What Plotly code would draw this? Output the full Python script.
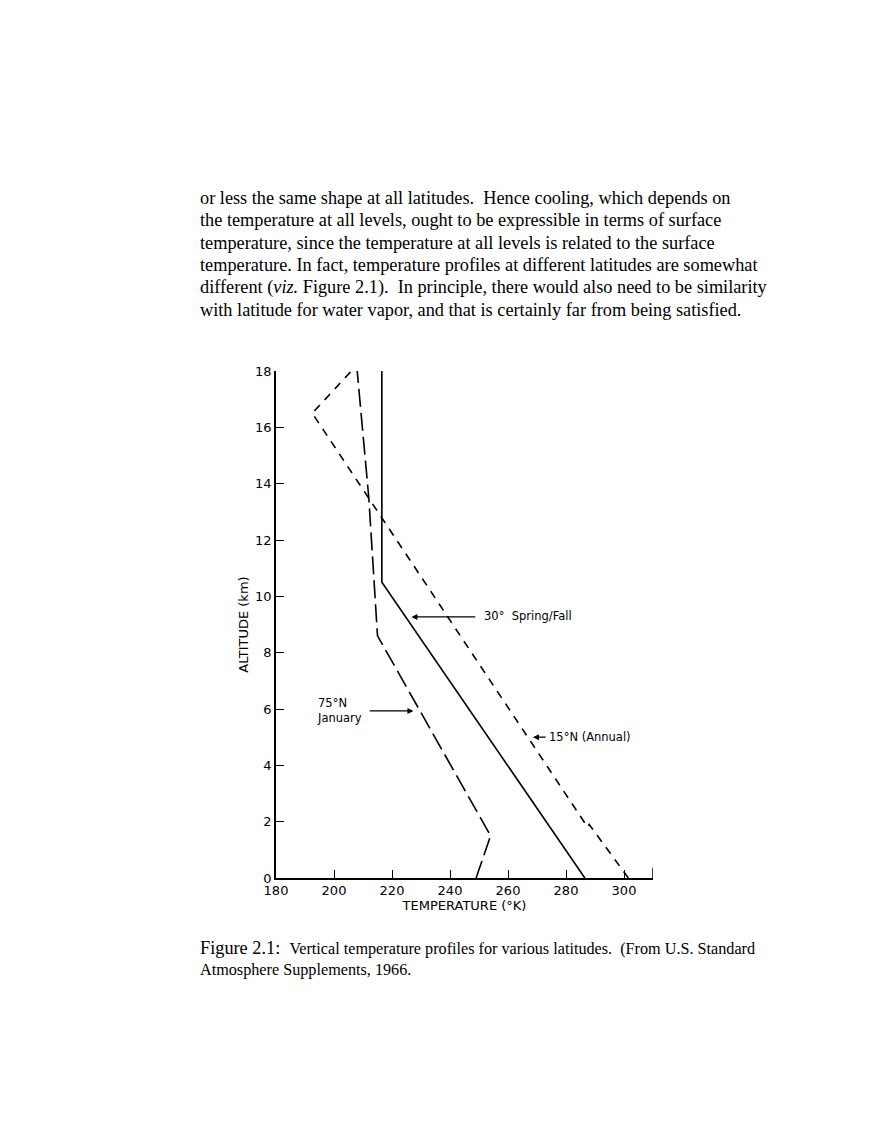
import plotly.graph_objects as go

# 30 deg Spring/Fall (solid)
t30 = [286.5, 216.5, 216.5]
z30 = [0, 10.5, 18]
# 15 N annual (dashed)
t15 = [301.5, 288, 287.5, 192.5, 206]
z15 = [0, 1.9, 1.8, 16.5, 18]
# 75 N January (long dash)
t75 = [249, 254, 215, 212, 208]
z75 = [0, 1.5, 8.6, 13.5, 18]

xticks = [180, 200, 220, 240, 260, 280, 300]
yticks = [0, 2, 4, 6, 8, 10, 12, 14, 16, 18]

paragraph = [
    "or less the same shape at all latitudes.  Hence cooling, which depends on",
    "the temperature at all levels, ought to be expressible in terms of surface",
    "temperature, since the temperature at all levels is related to the surface",
    "temperature. In fact, temperature profiles at different latitudes are somewhat",
    "different (<i>viz.</i> Figure 2.1).  In principle, there would also need to be similarity",
    "with latitude for water vapor, and that is certainly far from being satisfied.",
]

fig = go.Figure()
fig.add_trace(go.Scatter(x=t30, y=z30, mode="lines", line=dict(color="black", width=1.6)))
fig.add_trace(go.Scatter(x=t15, y=z15, mode="lines", line=dict(color="black", width=1.6, dash="8px,7px")))
fig.add_trace(go.Scatter(x=t75, y=z75, mode="lines", line=dict(color="black", width=1.6, dash="18px,6px")))

L, R, T, B = 268, 645, 363, 870
W, H = 880, 1139
def py(p):
    return (B - p) / (B - T)
def px(p):
    return (p - L) / (R - L)

ann = []
serif = dict(family="Liberation Serif", size=18.3, color="black")
for i, s in enumerate(paragraph):
    ann.append(dict(text=s, xref="paper", yref="paper", x=px(190), y=py(190 + i * 22.4),
                    xanchor="left", yanchor="middle", showarrow=False, font=serif))
ann.append(dict(text="Figure 2.1:  <span style='font-size:16.2px'>Vertical temperature profiles for various latitudes.  (From U.S. Standard</span>",
                xref="paper", yref="paper", x=px(190), y=py(940), xanchor="left", yanchor="middle",
                showarrow=False, font=dict(family="Liberation Serif", size=18.3, color="black")))
ann.append(dict(text="Atmosphere Supplements, 1966.", xref="paper", yref="paper", x=px(190), y=py(962),
                xanchor="left", yanchor="middle", showarrow=False,
                font=dict(family="Liberation Serif", size=16.2, color="black")))

sans = dict(family="DejaVu Sans", size=11.5, color="black")
ann.append(dict(x=226.7, y=9.27, ax=249.2, ay=9.27, axref="x", ayref="y", text="", showarrow=True,
                arrowhead=2, arrowsize=1, arrowwidth=1.2, arrowcolor="black"))
ann.append(dict(x=251, y=9.3, text="30°  Spring/Fall", xanchor="left", showarrow=False, font=sans))
ann.append(dict(x=268.6, y=5.0, ax=273.5, ay=5.0, axref="x", ayref="y", text="", showarrow=True,
                arrowhead=2, arrowsize=1, arrowwidth=1.2, arrowcolor="black"))
ann.append(dict(x=273.6, y=5.0, text="15°N (Annual)", xanchor="left", showarrow=False, font=sans))
ann.append(dict(x=227.4, y=5.93, ax=211.8, ay=5.93, axref="x", ayref="y", text="", showarrow=True,
                arrowhead=2, arrowsize=1, arrowwidth=1.2, arrowcolor="black"))
ann.append(dict(x=193.5, y=5.95, text="75°N<br>January", xanchor="left", align="left",
                showarrow=False, font=sans))

fig.update_layout(
    width=W, height=H, showlegend=False,
    paper_bgcolor="white", plot_bgcolor="white",
    margin=dict(l=L, r=W - R, t=T, b=H - B, autoexpand=False),
    font=dict(family="DejaVu Sans", size=12, color="black"),
    annotations=ann,
    shapes=[dict(type="line", xref="x", yref="paper", x0=310, x1=310, y0=0, y1=0.02,
                 line=dict(color="black", width=1.5))],
)
fig.update_xaxes(range=[180, 310], tickvals=xticks, ticks="inside", ticklen=8, tickcolor="black",
                 showline=True, linecolor="black", linewidth=1.5, showgrid=False, zeroline=False,
                 automargin=False,
                 title=dict(text="TEMPERATURE (°K)", font=dict(size=13), standoff=2),
                 tickfont=dict(size=13))
fig.update_yaxes(range=[0, 18], tickvals=yticks, ticks="inside", ticklen=8, tickcolor="black",
                 showline=True, linecolor="black", linewidth=1.5, showgrid=False, zeroline=False,
                 automargin=False,
                 title=dict(text="ALTITUDE (km)", font=dict(size=13), standoff=4),
                 tickfont=dict(size=13))

fig.write_html("out.html")
